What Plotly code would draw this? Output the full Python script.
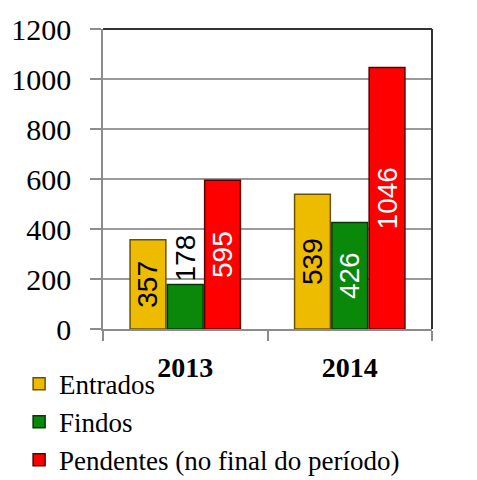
import plotly.graph_objects as go

anos = ['2013', '2014']
series = ['Entrados', 'Findos', 'Pendentes (no final do período)']
entrados = [357, 539]
findos = [178, 426]
pendentes = [595, 1046]
y_ticks = [0, 200, 400, 600, 800, 1000, 1200]

SERIF = 'Liberation Serif'
SANS = 'Liberation Sans'

fig = go.Figure()

# one trace per series: fill, edge, label colour, label position
styles = [
    (entrados, '#EDBB00', '#6b5200', ['#000000', '#000000'], ['inside', 'inside']),
    (findos, '#0A880A', '#053805', ['#000000', '#FFFFFF'], ['outside', 'inside']),
    (pendentes, '#FF0000', '#5a0000', ['#FFFFFF', '#FFFFFF'], ['inside', 'inside']),
]
for name, (vals, fill, edge, txtcol, txtpos) in zip(series, styles):
    fig.add_trace(go.Bar(
        x=anos,
        y=vals,
        name=name,
        marker=dict(color=fill, line=dict(color=edge, width=1.5)),
        text=[str(v) for v in vals],
        textposition=txtpos,
        textangle=-90,
        insidetextanchor='middle',
        constraintext='none',
        cliponaxis=False,
        textfont=dict(family=SANS, size=28, color=txtcol),
    ))

# page body has an 8px margin, so the figure is a bit smaller than the window
fig.update_layout(
    width=469,
    height=472,
    margin=dict(l=95, r=45, t=21, b=151, autoexpand=False),
    plot_bgcolor='white',
    paper_bgcolor='white',
    barmode='group',
    bargap=0.32,
    bargroupgap=0.04,
    font=dict(family=SERIF, color='#000000'),
    legend=dict(
        x=-0.255, y=-0.102,
        xanchor='left', yanchor='top',
        font=dict(family=SERIF, size=27, color='#000000'),
        bgcolor='rgba(0,0,0,0)',
        itemwidth=30,
        traceorder='normal',
    ),
    xaxis=dict(
        showline=True,
        linecolor='#8c8c8c',
        linewidth=1.5,
        ticks='outside',
        tickson='boundaries',
        ticklen=10,
        tickcolor='#8c8c8c',
        tickwidth=1.5,
        tickangle=0,
        tickfont=dict(family=SERIF, size=28, color='#000000', weight='bold'),
        ticklabelstandoff=13,
        showgrid=False,
        automargin=False,
    ),
    yaxis=dict(
        range=[0, 1200],
        tickvals=y_ticks,
        showline=True,
        linecolor='#8c8c8c',
        linewidth=1.5,
        ticks='outside',
        ticklen=11,
        tickcolor='#8c8c8c',
        tickwidth=1.5,
        tickfont=dict(family=SERIF, size=30, color='#000000'),
        ticklabelstandoff=13,
        showgrid=True,
        gridcolor='#9a9a9a',
        gridwidth=1.5,
        zeroline=False,
        automargin=False,
    ),
)

# dark frame on top and right
fig.add_shape(type='line', xref='paper', yref='paper', x0=0, x1=1, y0=1, y1=1,
              line=dict(color='#333333', width=2))
fig.add_shape(type='line', xref='paper', yref='paper', x0=1, x1=1, y0=0, y1=1,
              line=dict(color='#333333', width=2))

fig.write_html('out.html')
